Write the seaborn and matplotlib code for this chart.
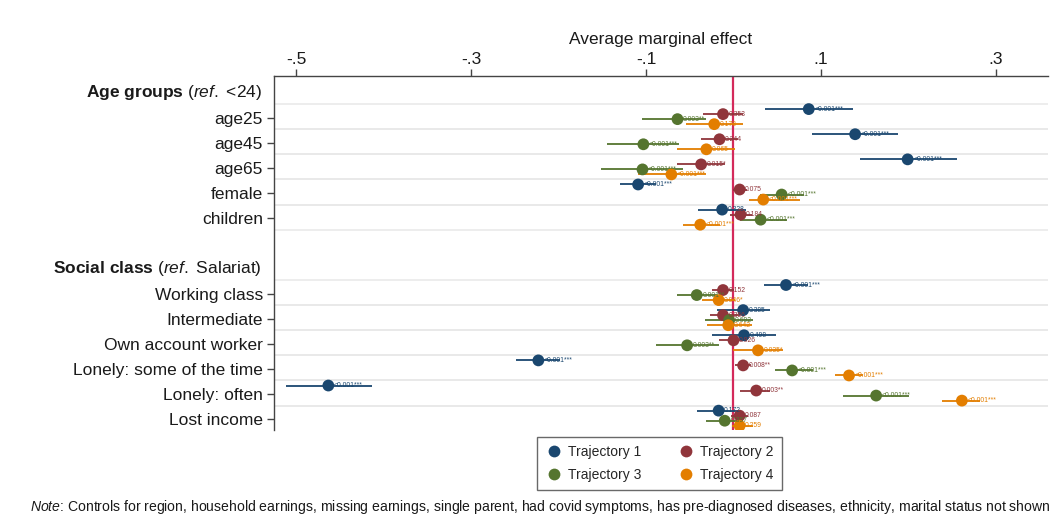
import matplotlib
matplotlib.use("Agg")
import matplotlib.pyplot as plt
from matplotlib.transforms import ScaledTranslation
import pandas as pd
import seaborn as sns

# Covariates in display order and their row positions (header rows sit at 0 and 7)
variables = ["age25", "age45", "age65", "female", "children",
             "Working class", "Intermediate", "Own account worker",
             "Lonely: some of the time", "Lonely: often", "Lost income"]
row_pos = [1, 2, 3, 4, 5, 8, 9, 10, 11, 12, 13]
headers = [r"$\mathbf{Age\ groups}$ ($\mathit{ref.}$ <24)",
           r"$\mathbf{Social\ class}$ ($\mathit{ref.}$ Salariat)"]
header_pos = [0, 7]

trajectories = ["Trajectory 1", "Trajectory 2", "Trajectory 3", "Trajectory 4"]
colors = ["#1a476f", "#90353b", "#55752f", "#e37e00"]

# Average marginal effects, 95% CI bounds and p-value labels per trajectory
t1_est = [0.086, 0.139, 0.199, -0.109, -0.013, 0.060, 0.011, 0.012, -0.223, -0.463, -0.017]
t1_lo = [0.036, 0.090, 0.145, -0.130, -0.040, 0.035, -0.019, -0.025, -0.248, -0.511, -0.042]
t1_hi = [0.136, 0.188, 0.255, -0.088, 0.014, 0.085, 0.042, 0.049, -0.198, -0.413, 0.008]
t1_p = ["<0.001***", "<0.001***", "<0.001***", "<0.001***", "0.328", "<0.001***",
        "0.385", "0.498", "<0.001***", "<0.001***", "0.172"]

t2_est = [-0.012, -0.016, -0.037, 0.007, 0.008, -0.012, -0.012, 0.000, 0.011, 0.026, 0.007]
t2_lo = [-0.035, -0.037, -0.064, -0.001, -0.004, -0.025, -0.027, -0.017, 0.002, 0.007, -0.003]
t2_hi = [0.011, 0.005, -0.010, 0.015, 0.021, 0.001, 0.007, 0.015, 0.020, 0.042, 0.017]
t2_p = ["0.353", "0.244", "0.015*", "0.075", "0.184", "0.152",
        "0.356", "0.926", "0.008**", "0.003**", "0.087"]

t3_est = [-0.064, -0.103, -0.104, 0.055, 0.031, -0.042, -0.005, -0.053, 0.067, 0.163, -0.010]
t3_lo = [-0.105, -0.144, -0.151, 0.030, 0.007, -0.065, -0.033, -0.089, 0.047, 0.125, -0.031]
t3_hi = [-0.031, -0.062, -0.058, 0.080, 0.061, -0.019, 0.022, -0.017, 0.091, 0.200, 0.011]
t3_p = ["0.003**", "<0.001***", "<0.001***", "<0.001***", "<0.001***", "0.001**",
        "0.692", "0.003**", "<0.001***", "<0.001***", "0.357"]

t4_est = [-0.022, -0.031, -0.071, 0.034, -0.038, -0.017, -0.006, 0.028, 0.132, 0.261, 0.007]
t4_lo = [-0.054, -0.064, -0.109, 0.018, -0.058, -0.036, -0.030, 0.000, 0.116, 0.238, -0.002]
t4_hi = [0.011, 0.002, -0.031, 0.076, -0.015, 0.002, 0.021, 0.057, 0.148, 0.282, 0.022]
t4_p = ["0.178", "0.065", "<0.001***", "<0.001***", "<0.001***", "0.046*",
        "0.642", "0.035*", "<0.001***", "<0.001***", "0.259"]

x_ticks = [-0.5, -0.3, -0.1, 0.1, 0.3]
x_ticklabels = ["-.5", "-.3", "-.1", ".1", ".3"]

note = (r"$\mathit{Note}$: Controls for region, household earnings, missing earnings, "
        "single parent, had covid symptoms, has pre-diagnosed diseases, ethnicity, "
        "marital status not shown")

# Vertical offset of each trajectory within a covariate row
offsets = [-0.35, -0.15, 0.05, 0.25]

series = [(t1_est, t1_lo, t1_hi, t1_p), (t2_est, t2_lo, t2_hi, t2_p),
          (t3_est, t3_lo, t3_hi, t3_p), (t4_est, t4_lo, t4_hi, t4_p)]
records = []
for traj, off, (est, lo, hi, p) in zip(trajectories, offsets, series):
    for var, k, e, l, h, pv in zip(variables, row_pos, est, lo, hi, p):
        records.append(dict(variable=var, trajectory=traj, est=e, lo=l, hi=h,
                            p=pv, y=k + off))
df = pd.DataFrame(records)

sns.set_theme(style="white")
plt.rcParams["font.family"] = ["Liberation Sans", "DejaVu Sans"]
plt.rcParams["mathtext.fontset"] = "custom"
plt.rcParams["mathtext.rm"] = "Liberation Sans"
plt.rcParams["mathtext.bf"] = "Liberation Sans:bold"
plt.rcParams["mathtext.it"] = "Liberation Sans:italic"

fig = plt.figure(figsize=(10.61, 5.32), dpi=100)
ax = fig.add_axes([274 / 1061, 1 - 430 / 532, (1048 - 274) / 1061, (430 - 76) / 532])

# Row separators
for k in row_pos:
    for yy in (k - 0.55, k + 0.45):
        ax.axhline(yy, color="#e8e8e8", lw=1.1, zorder=0)

ax.axvline(0, color="#d42a5b", lw=1.6, zorder=1)

# Confidence intervals
for traj, color in zip(trajectories, colors):
    sub = df[df.trajectory == traj]
    ax.hlines(sub.y, sub.lo, sub.hi, color=color, lw=1.3, zorder=2)

sns.scatterplot(data=df, x="est", y="y", hue="trajectory", hue_order=trajectories,
                palette=colors, s=72, edgecolor="none", linewidth=0, zorder=3,
                ax=ax)

# p-value labels next to each point
for traj, color in zip(trajectories, colors):
    sub = df[df.trajectory == traj]
    for _, r in sub.iterrows():
        ax.annotate(r.p, (r.est, r.y), xytext=(4, 0), textcoords="offset points",
                    fontsize=4.9, color=color, ha="left", va="center", zorder=4)

ax.set_xlim(-0.5251, 0.3594)
ax.set_ylim(13.42, -0.667)

ax.xaxis.tick_top()
ax.xaxis.set_label_position("top")
ax.set_xticks(x_ticks)
ax.set_xticklabels(x_ticklabels)
ax.set_xlabel("Average marginal effect", fontsize=12.5, labelpad=6, color="#1a1a1a")
ax.set_yticks(row_pos)
ax.set_yticklabels(variables)
ax.set_ylabel("")
ax.tick_params(axis="x", which="both", top=True, bottom=False, length=5, width=1,
               color="#444444", labelsize=12.5, labelcolor="#1a1a1a", pad=1.5)
ax.tick_params(axis="y", left=True, length=5, width=1, color="#444444",
               labelsize=12.5, labelcolor="#1a1a1a", pad=3)

for side in ("right", "bottom"):
    ax.spines[side].set_visible(False)
for side in ("top", "left"):
    ax.spines[side].set_color("#444444")
    ax.spines[side].set_linewidth(1)

# Group headers
htrans = ax.get_yaxis_transform() + ScaledTranslation(-12 / 100, 0, fig.dpi_scale_trans)
for text, k in zip(headers, header_pos):
    ax.text(0, k, text, transform=htrans, ha="right", va="center",
            fontsize=12.5, color="#1a1a1a")

# Legend filled row by row: 1, 2 on top, 3, 4 below
handles, labels = ax.get_legend_handles_labels()
order = [0, 2, 1, 3]
ax.get_legend().remove()
leg = ax.legend([handles[i] for i in order], [labels[i] for i in order],
                loc="upper center", bbox_to_anchor=(659.5 / 1061, 1 - 437 / 532),
                bbox_transform=fig.transFigure, ncol=2, frameon=True,
                fontsize=10, markerscale=1.0, handletextpad=0.4, columnspacing=2.6,
                borderpad=0.6, labelspacing=0.6, fancybox=False, edgecolor="#444444",
                handlelength=1.2, borderaxespad=0)
leg.get_frame().set_linewidth(1)

fig.text(30 / 1061, 1 - 507 / 532, note, fontsize=10.1, ha="left", va="center",
         color="#1a1a1a")

fig.savefig("out.png", dpi=100, facecolor="white")
